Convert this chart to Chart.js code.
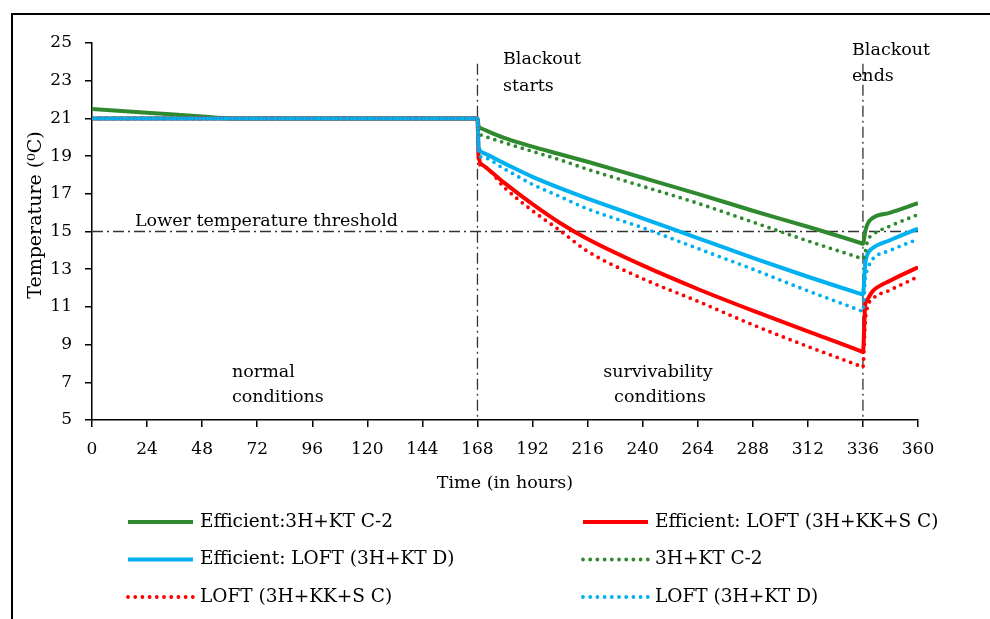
<!DOCTYPE html>
<html>
<head>
<meta charset="utf-8">
<script src="https://cdn.jsdelivr.net/npm/chart.js@4.4.0/dist/chart.umd.min.js"></script>
<style>
  html, body { margin: 0; padding: 0; background: #fff; overflow: hidden; }
  #wrap { position: relative; width: 990px; height: 619px; }
  #frame { position: absolute; left: 11px; top: 13px; width: 1000px; height: 700px; border: 2px solid #000; box-sizing: border-box; }
  canvas { position: absolute; left: 0; top: 0; }
</style>
</head>
<body>
<div id="wrap">
  <div id="frame"></div>
  <canvas id="tempChart" width="990" height="619"></canvas>
</div>
<script>
// ---- data ----
const hours = [0, 24, 48, 60, 72, 96, 120, 144, 168, 168.5, 170, 180, 192, 204, 216, 240, 264, 288, 312, 335, 336, 337, 338, 340, 348, 360];

const effC2 = [21.5, 21.3, 21.1, 21.0, 21.0, 21.0, 21.0, 21.0, 21.0, 20.6, 20.45, 19.95, 19.5, 19.1, 18.7, 17.85, 17.0, 16.1, 15.25, 14.39, 14.35, 15.0, 15.4, 15.7, 16.0, 16.5];
const effKKS = [21, 21, 21, 21, 21, 21, 21, 21, 21, 19.0, 18.55, 17.55, 16.45, 15.45, 14.6, 13.2, 11.95, 10.8, 9.7, 8.65, 8.6, 11.1, 11.4, 11.8, 12.4, 13.1];
const effKTD = [21, 21, 21, 21, 21, 21, 21, 21, 21, 19.5, 19.2, 18.6, 17.9, 17.3, 16.75, 15.7, 14.65, 13.6, 12.6, 11.69, 11.65, 13.3, 13.8, 14.1, 14.55, 15.15];
const baseC2 = [21, 21, 21, 21, 21, 21, 21, 21, 21, 20.3, 20.1, 19.7, 19.25, 18.8, 18.3, 17.4, 16.5, 15.5, 14.5, 13.59, 13.55, 13.9, 14.5, 14.8, 15.3, 15.9];
const baseKKS = [21, 21, 21, 21, 21, 21, 21, 21, 21, 18.7, 18.5, 17.3, 16.1, 15.05, 13.95, 12.5, 11.3, 10.05, 8.9, 7.85, 7.8, 10.2, 11.0, 11.4, 11.9, 12.6];
const baseKTD = [21, 21, 21, 21, 21, 21, 21, 21, 21, 19.1, 18.95, 18.3, 17.5, 16.85, 16.2, 15.2, 14.1, 13.0, 11.85, 10.8, 10.75, 12.5, 13.0, 13.5, 14.0, 14.6];

const seriesLabels = [
  "Efficient:3H+KT C-2",
  "Efficient: LOFT (3H+KK+S C)",
  "Efficient: LOFT (3H+KT D)",
  "3H+KT C-2",
  "LOFT (3H+KK+S C)",
  "LOFT (3H+KT D)",
];

const threshold = 15;
const blackoutStart = 168;
const blackoutEnd = 336;

// ---- styling ----
const GREEN = "#2F8A2F";
const RED = "#FF0000";
const BLUE = "#00B0F0";
const FONT = "'DejaVu Serif', 'Liberation Serif', serif";
const DOTS = [0, 7.2];

function toPoints(values) {
  return hours.map((h, i) => ({ x: h, y: values[i] }));
}

function lineSet(label, values, color, dotted, order) {
  return {
    label: label,
    data: toPoints(values),
    borderColor: color,
    backgroundColor: color,
    borderWidth: dotted ? 3.8 : 4,
    borderDash: dotted ? DOTS : [],
    borderCapStyle: dotted ? "round" : "butt",
    pointRadius: 0,
    cubicInterpolationMode: "monotone",
    order: order,
  };
}

// threshold / blackout lines, notes and the y title
const notesPlugin = {
  id: "notes",
  beforeDatasetsDraw(chart) {
    const { ctx, scales } = chart;
    const xs = scales.x, ys = scales.y;

    ctx.save();
    ctx.strokeStyle = "#333";
    ctx.lineWidth = 1.3;
    ctx.setLineDash([11, 4, 2, 4]);

    ctx.beginPath();
    ctx.moveTo(xs.getPixelForValue(0), ys.getPixelForValue(threshold));
    ctx.lineTo(xs.getPixelForValue(360), ys.getPixelForValue(threshold));
    ctx.stroke();

    [blackoutStart, blackoutEnd].forEach((h) => {
      ctx.beginPath();
      ctx.moveTo(xs.getPixelForValue(h), ys.getPixelForValue(23.9));
      ctx.lineTo(xs.getPixelForValue(h), ys.getPixelForValue(5));
      ctx.stroke();
    });
    ctx.restore();

    ctx.save();
    ctx.fillStyle = "#000";
    ctx.font = "17.5px " + FONT;
    ctx.textBaseline = "middle";
    ctx.textAlign = "left";
    ctx.fillText("Lower temperature threshold", 135, 221);
    ctx.fillText("Blackout", 503, 59);
    ctx.fillText("starts", 503, 86);
    ctx.fillText("Blackout", 852, 50);
    ctx.fillText("ends", 852, 76);
    ctx.fillText("normal", 232, 372);
    ctx.fillText("conditions", 232, 397);
    ctx.textAlign = "center";
    ctx.fillText("survivability", 658, 372);
    ctx.fillText("conditions", 660, 397);

    ctx.translate(36, 215);
    ctx.rotate(-Math.PI / 2);
    ctx.font = "19px " + FONT;
    ctx.fillText("Temperature (\u2070C)", 0, 0);
    ctx.restore();
  },
};

// two-column legend under the chart
const legendPlugin = {
  id: "gridLegend",
  afterDraw(chart) {
    const ctx = chart.ctx;
    chart.data.datasets.forEach((ds, i) => {
      const col = i % 2;
      const row = Math.floor(i / 2);
      const x = col === 0 ? 128 : 583;
      const y = 522 + row * 37.5;

      ctx.save();
      ctx.strokeStyle = ds.borderColor;
      ctx.lineWidth = ds.borderWidth;
      ctx.lineCap = ds.borderCapStyle;
      ctx.setLineDash(ds.borderDash);
      ctx.beginPath();
      ctx.moveTo(x, y);
      ctx.lineTo(x + 65, y);
      ctx.stroke();
      ctx.restore();

      ctx.save();
      ctx.fillStyle = "#000";
      ctx.font = "18.5px " + FONT;
      ctx.textBaseline = "middle";
      ctx.fillText(ds.label, x + 72, y);
      ctx.restore();
    });
  },
};

const axisGrid = { drawOnChartArea: false, drawTicks: true, tickLength: 7, color: "#000", lineWidth: 1.5 };
const axisBorder = { display: true, color: "#000", width: 1.5 };

new Chart(document.getElementById("tempChart"), {
  type: "line",
  data: {
    datasets: [
      lineSet(seriesLabels[0], effC2, GREEN, false, 5),
      lineSet(seriesLabels[1], effKKS, RED, false, 4),
      lineSet(seriesLabels[2], effKTD, BLUE, false, 3),
      lineSet(seriesLabels[3], baseC2, GREEN, true, 2),
      lineSet(seriesLabels[4], baseKKS, RED, true, 1),
      lineSet(seriesLabels[5], baseKTD, BLUE, true, 0),
    ],
  },
  options: {
    responsive: false,
    animation: false,
    devicePixelRatio: 1,
    layout: { padding: { left: 12, top: 43, right: 72, bottom: 119 } },
    plugins: {
      legend: { display: false },
      tooltip: { enabled: false },
    },
    scales: {
      x: {
        type: "linear",
        min: 0,
        max: 360,
        grid: axisGrid,
        border: axisBorder,
        ticks: { stepSize: 24, padding: 12, color: "#000", font: { family: FONT, size: 17 } },
        title: { display: true, text: "Time (in hours)", color: "#000", padding: { top: 0, bottom: 6 }, font: { family: FONT, size: 17.5 } },
        afterFit(scale) { scale.height = 80; },
      },
      y: {
        min: 5,
        max: 25,
        grid: axisGrid,
        border: axisBorder,
        ticks: { stepSize: 2, padding: 13, color: "#000", font: { family: FONT, size: 17 } },
        afterFit(scale) { scale.width = 80; },
      },
    },
  },
  plugins: [notesPlugin, legendPlugin],
});
</script>
</body>
</html>
